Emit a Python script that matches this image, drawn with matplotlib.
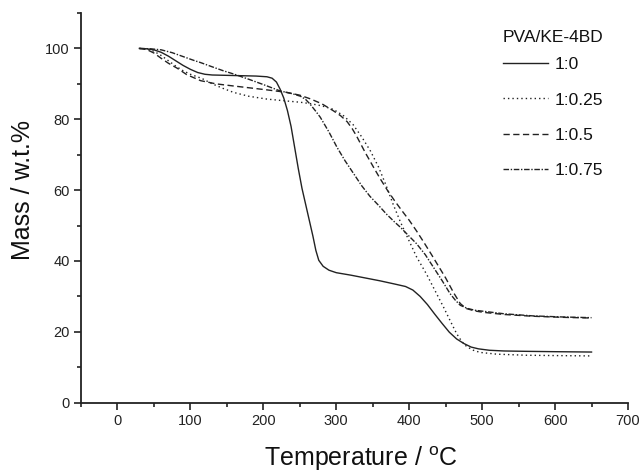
import matplotlib
matplotlib.use("Agg")
import matplotlib.pyplot as plt
from matplotlib.ticker import MultipleLocator

plt.rcParams['font.family'] = ['Liberation Sans', 'DejaVu Sans']
plt.rcParams['mathtext.fontset'] = 'custom'
plt.rcParams['mathtext.rm'] = 'Liberation Sans'
plt.rcParams['mathtext.it'] = 'Liberation Sans:italic'

# ---- data ----
legend_title = "PVA/KE-4BD"
labels = ["1:0", "1:0.25", "1:0.5", "1:0.75"]

t_10 = [30, 40, 50, 60, 70, 80, 90, 100, 110, 120, 130, 150, 170, 190, 205, 212,
        218, 223, 228, 233, 238, 243, 248, 253, 258, 263, 268, 272, 276, 282, 290,
        300, 320, 340, 360, 380, 395, 405, 415, 425, 435, 445, 455, 465, 475, 485,
        495, 510, 530, 560, 600, 650]
m_10 = [100, 99.9, 99.6, 98.9, 97.8, 96.5, 95.2, 94.1, 93.2, 92.7, 92.5, 92.4, 92.3, 92.2, 92.0, 91.6,
        90.5, 88.5, 86.0, 82.5, 78.0, 72.0, 66.0, 60.5, 56.0, 51.5, 47.0, 43.0, 40.2, 38.5, 37.4,
        36.7, 36.0, 35.2, 34.4, 33.5, 32.8, 31.8, 30.0, 27.7, 25.0, 22.4, 19.9, 18.0, 16.7, 15.7,
        15.2, 14.8, 14.6, 14.5, 14.4, 14.3]

t_1025 = [30, 40, 50, 60, 70, 80, 90, 100, 116, 130, 145, 159, 180, 205, 230, 251, 265,
          280, 296, 310, 323, 335, 347, 358, 368, 378, 388, 398, 410, 424, 435, 447, 457,
          465, 472, 479, 488, 497, 520, 560, 600, 650]
m_1025 = [100, 99.8, 99.2, 98.0, 96.5, 95.0, 93.7, 92.7, 91.5, 90.0, 88.7, 87.6, 86.5, 85.7, 85.2, 84.8, 84.4,
          83.8, 82.8, 81.0, 78.5, 75.0, 71.0, 66.5, 61.5, 56.0, 51.0, 46.5, 41.2, 36.2, 31.8, 27.0, 22.8,
          19.5, 17.3, 15.8, 14.8, 14.2, 13.7, 13.4, 13.3, 13.2]

t_105 = [30, 40, 50, 60, 70, 82, 95, 114, 135, 159, 180, 205, 232, 250, 264, 280, 296, 306,
         315, 322, 328, 340, 351, 360, 370, 380, 390, 400, 410, 420, 430, 440, 450, 461,
         470, 478, 490, 502, 530, 570, 610, 650]
m_105 = [100, 99.7, 98.7, 97.2, 95.8, 94.4, 92.6, 90.9, 90.0, 89.4, 88.9, 88.3, 87.6, 86.8, 85.8, 84.4, 82.4, 81.0,
         79.3, 77.3, 75.2, 70.5, 66.5, 63.3, 60.0, 57.0, 54.2, 51.5, 48.5, 45.3, 42.0, 38.6, 35.2, 31.0,
         28.0, 26.6, 25.9, 25.5, 24.9, 24.4, 24.1, 23.9]

t_1075 = [30, 45, 60, 75, 90, 105, 114, 130, 145, 159, 180, 200, 223, 240, 251, 258, 264,
          271, 278, 290, 301, 312, 324, 335, 346, 358, 369, 380, 388, 397, 410, 422, 433,
          445, 456, 463, 470, 480, 490, 502, 530, 570, 610, 650]
m_1075 = [100, 99.9, 99.6, 98.8, 97.7, 96.6, 96.0, 94.8, 93.7, 92.8, 91.3, 89.8, 88.0, 87.2, 86.5, 85.6, 84.3,
          82.5, 80.6, 76.4, 72.1, 68.3, 64.6, 61.2, 58.3, 55.7, 53.2, 51.0, 49.5, 47.6, 44.9, 41.8, 38.3,
          34.5, 30.8, 29.0, 27.5, 26.6, 26.1, 25.8, 25.1, 24.5, 24.2, 24.0]

series = [(t_10, m_10), (t_1025, m_1025), (t_105, m_105), (t_1075, m_1075)]
styles = ['-', (0, (1, 2.2)), (0, (4.5, 2.5)), (0, (4, 1.2, 1, 1.2))]

fig = plt.figure(figsize=(6.41, 4.72), dpi=100)
ax = fig.add_axes([81/641, 1 - 402.7/472, (628-81)/641, (402.7-13)/472])

line_color = '#222222'
for (t, m), ls, lab in zip(series, styles, labels):
    ax.plot(t, m, linestyle=ls, color=line_color, lw=1.0, label=lab)

ax.set_xlim(-50, 700)
ax.set_ylim(0, 110)
ax.xaxis.set_major_locator(MultipleLocator(100))
ax.xaxis.set_minor_locator(MultipleLocator(50))
ax.yaxis.set_major_locator(MultipleLocator(20))
ax.yaxis.set_minor_locator(MultipleLocator(10))
for s in ['top', 'right']:
    ax.spines[s].set_visible(False)
for s in ['left', 'bottom']:
    ax.spines[s].set_linewidth(1.3)
    ax.spines[s].set_color('#222222')
ax.tick_params(which='major', direction='out', length=5, width=1.2, labelsize=10.5,
               colors='#222222', pad=3)
ax.tick_params(which='minor', direction='out', length=3, width=1.2, colors='#222222')

ax.set_ylabel('Mass / w.t.%', fontsize=18, color='#111111')
ax.yaxis.label.set_va('center')
ax.yaxis.set_label_coords((23-81)/547, (402.7-190.5)/389.7)

ax.set_xlabel('Temperature / $^{\\mathrm{o}}$C', fontsize=18, color='#111111')
ax.xaxis.label.set_va('baseline')
ax.xaxis.set_label_coords((361-81)/547, (402.7-465.5)/389.7)

leg_fs = 12.5
leg_spacing = 1.15
leg = ax.legend(title=legend_title, frameon=False, loc='upper left',
                bbox_to_anchor=(496/641, 1 - 23/472), bbox_transform=fig.transFigure,
                fontsize=leg_fs, title_fontsize=leg_fs, handlelength=2.6, handletextpad=0.35,
                labelspacing=leg_spacing, alignment='left', borderaxespad=0)
# tighter gap between title and first entry than between entries
leg._legend_box.sep = leg_spacing * leg_fs - 5.5
for txt in leg.get_texts():
    txt.set_color('#111111')
leg.get_title().set_color('#111111')

fig.savefig('out.png', dpi=100)
